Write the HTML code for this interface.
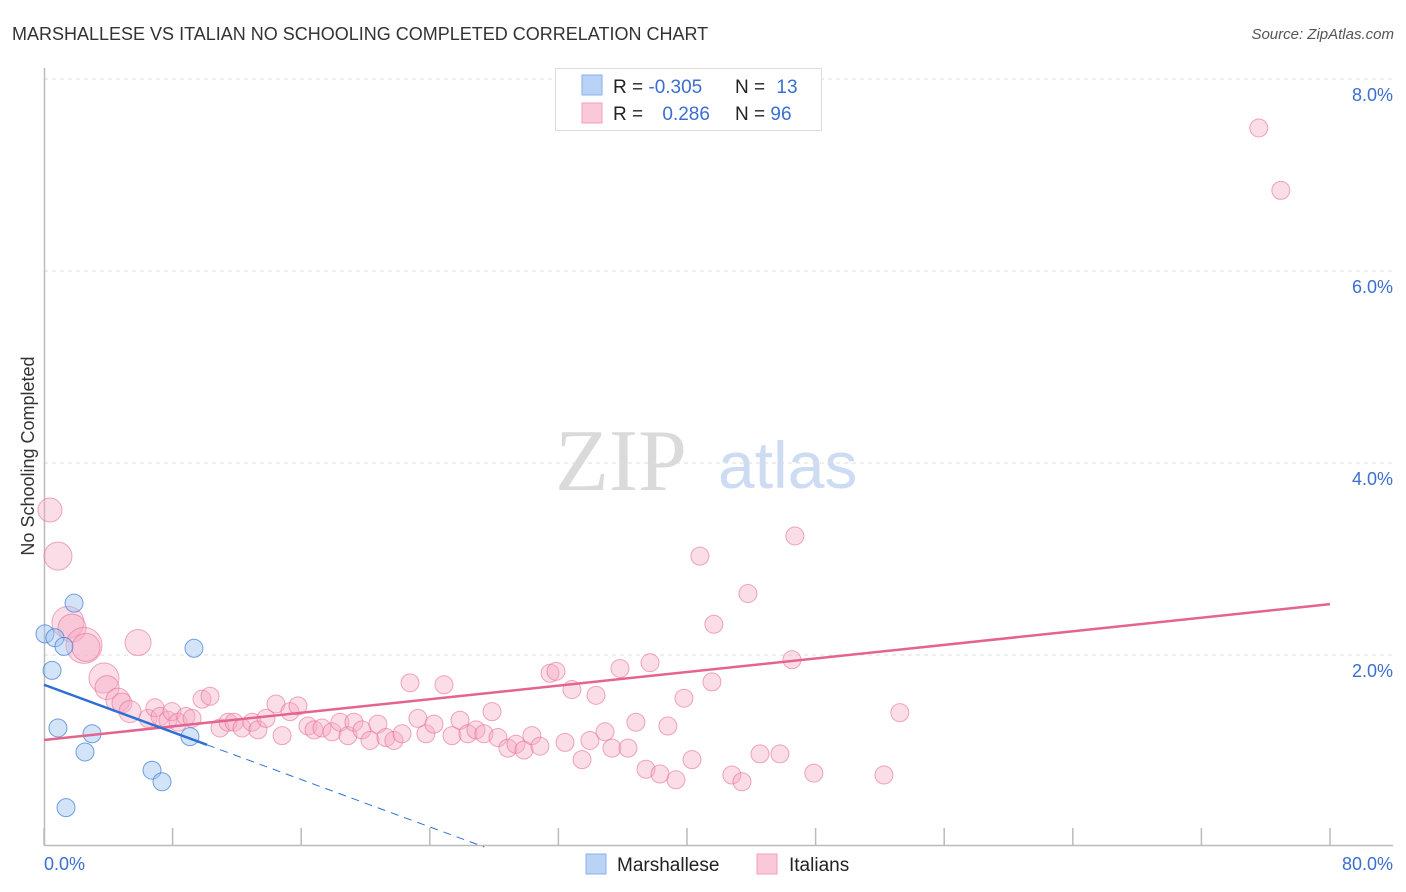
<!DOCTYPE html>
<html><head><meta charset="utf-8">
<style>
body{margin:0;background:#fff;font-family:"Liberation Sans",sans-serif;}
svg{display:block}
</style></head>
<body>
<svg id="chart" width="1406" height="892">
<text x="12" y="40" font-size="18" fill="#333">MARSHALLESE VS ITALIAN NO SCHOOLING COMPLETED CORRELATION CHART</text>
<text x="1394" y="39" font-size="15" fill="#555" text-anchor="end" font-style="italic">Source: ZipAtlas.com</text>
<g>
<text x="555" y="490" font-family="Liberation Serif,serif" font-size="88" fill="#dadada">ZIP</text>
<text x="718" y="488" font-size="66" fill="#cddcf2">atlas</text>
</g>
<text transform="translate(34,456) rotate(-90)" font-size="18" fill="#333" text-anchor="middle">No Schooling Completed</text>
<g id="grid"></g>
<g id="axes"></g>
<g id="marks"></g>
<g>
<rect x="555.5" y="68.5" width="266" height="62" fill="#fff" stroke="#ddd"/>
<rect x="582" y="75" width="20" height="20" fill="#b8d3f5" stroke="#8ab0e8"/>
<rect x="582" y="103" width="20" height="20" fill="#fac8d8" stroke="#f0a0b8"/>
<text x="613" y="93" font-size="19" fill="#222">R = <tspan fill="#3a6fd0">-0.305</tspan></text>
<text x="735" y="93" font-size="19" fill="#222">N = <tspan fill="#3a6fd0" dx="6">13</tspan></text>
<text x="613" y="120" font-size="19" fill="#222">R = <tspan fill="#3a6fd0" dx="14">0.286</tspan></text>
<text x="735" y="120" font-size="19" fill="#222">N = <tspan fill="#3a6fd0">96</tspan></text>
</g>
<g>
<rect x="586" y="854" width="20" height="20" fill="#b8d3f5" stroke="#8ab0e8"/>
<text x="617" y="871" font-size="19" fill="#222">Marshallese</text>
<rect x="757" y="854" width="20" height="20" fill="#fac8d8" stroke="#f0a0b8"/>
<text x="789" y="871" font-size="19" fill="#222">Italians</text>
</g>
</svg>
<script>
const yTicks=[2,4,6,8];
const yTickLabels=["2.0%","4.0%","6.0%","8.0%"];
const xTicks=[0,8,16,24,32,40,48,56,64,72,80];
const xEndLabels=["0.0%","80.0%"];
const blueX=[0.06,0.50,0.68,0.87,1.24,1.37,1.87,2.55,2.99,6.72,7.34,9.08,9.33];
const blueY=[2.22,1.84,2.18,1.24,2.09,0.41,2.54,0.99,1.18,0.80,0.68,1.15,2.07];
const pinkX=[0.37,0.87,1.49,1.74,2.49,2.61,3.73,3.92,4.60,4.85,5.35,5.85,6.47,6.90,7.22,7.71,7.96,8.34,8.83,9.21,9.83,10.33,10.95,11.45,11.82,12.32,12.94,13.31,13.81,14.43,14.81,15.30,15.80,16.42,16.80,17.29,17.92,18.41,18.91,19.28,19.78,20.28,20.77,21.27,21.77,22.27,22.77,23.26,23.76,24.26,24.88,25.38,25.88,26.37,26.87,27.37,27.87,28.24,28.86,29.36,29.86,30.35,30.85,31.48,31.85,32.41,32.84,33.47,33.96,34.34,34.90,35.33,35.83,36.33,36.82,37.45,37.70,38.32,38.81,39.31,39.81,40.31,40.80,41.55,41.67,42.79,43.42,43.79,44.54,45.78,46.53,46.71,47.89,52.25,53.24,75.57,76.94];
const pinkY=[3.51,3.03,2.34,2.28,2.10,2.08,1.76,1.66,1.53,1.50,1.41,2.13,1.34,1.45,1.36,1.32,1.41,1.30,1.36,1.34,1.54,1.57,1.24,1.30,1.30,1.24,1.30,1.22,1.34,1.49,1.16,1.41,1.47,1.26,1.22,1.24,1.20,1.30,1.16,1.30,1.22,1.11,1.28,1.14,1.11,1.18,1.71,1.34,1.18,1.28,1.69,1.16,1.32,1.18,1.22,1.18,1.41,1.14,1.03,1.07,1.01,1.16,1.05,1.81,1.83,1.09,1.64,0.91,1.11,1.58,1.20,1.03,1.86,1.03,1.30,0.81,1.92,0.76,1.26,0.70,1.55,0.91,3.03,1.72,2.32,0.75,0.68,2.64,0.97,0.97,1.95,3.24,0.77,0.75,1.40,7.49,6.84];
const pinkSize=[12,14,16,14,18,14,15,12,12,10,11,13];
const pinkTrend=[1.115,2.53];
const blueTrend=[1.69,-0.0617];
const blueSolidEnd=10.14;

const NS="http://www.w3.org/2000/svg";
const X0=44,X1=1330,Y0=847,PX=96;
const sx=v=>X0+(v/80)*(X1-X0);
const sy=v=>Y0-v*PX;
function mk(tag,attrs,parent){const e=document.createElementNS(NS,tag);for(const k in attrs)e.setAttribute(k,attrs[k]);parent.appendChild(e);return e;}
const grid=document.getElementById('grid'),axes=document.getElementById('axes'),marks=document.getElementById('marks');
yTicks.forEach((t,i)=>{
 const l=mk('line',{x1:44,x2:1393,y1:sy(t),y2:sy(t),stroke:'#ddd','stroke-dasharray':'4,4'},grid);
 
 
 const tx=mk('text',{x:1393,y:sy(t)+22,'font-size':18,fill:'#3a6fd0','text-anchor':'end'},grid);
 tx.textContent=yTickLabels[i];
 
 
});
const ax=mk('path',{d:'M44.5 68V845.5H1393',fill:'none',stroke:'#bbb','stroke-width':1.5},axes);


xTicks.forEach(t=>{
 const l=mk('line',{x1:sx(t),x2:sx(t),y1:828,y2:845,stroke:'#bbb','stroke-width':1.5},axes);
 
 
});
[[0,'start',44],[80,'end',1393]].forEach((d,i)=>{
 const tx=mk('text',{x:d[2],y:870,'font-size':18,fill:'#3a6fd0','text-anchor':d[1]},axes);
 tx.textContent=xEndLabels[i];
 
 
});
pinkX.forEach((x,i)=>{
 const c=mk('circle',{cx:sx(x),cy:sy(pinkY[i]),r:pinkSize[i]||9,fill:'rgba(246,170,195,0.4)',stroke:'rgba(230,110,150,0.6)','stroke-width':1},marks);
 
 
});
blueX.forEach((x,i)=>{
 const c=mk('circle',{cx:sx(x),cy:sy(blueY[i]),r:9,fill:'rgba(160,195,240,0.45)',stroke:'rgba(70,130,215,0.75)','stroke-width':1},marks);
 
 
});
const pl=mk('line',{x1:sx(0),y1:sy(pinkTrend[0]),x2:sx(80),y2:sy(pinkTrend[1]),stroke:'#e4648e','stroke-width':2.5},marks);


const bf=v=>blueTrend[0]+blueTrend[1]*v;
const bl=mk('line',{x1:sx(0),y1:sy(bf(0)),x2:sx(blueSolidEnd),y2:sy(bf(blueSolidEnd)),stroke:'#2f6fd4','stroke-width':2.5},marks);


const xEnd=-blueTrend[0]/blueTrend[1];
const bd=mk('line',{x1:sx(blueSolidEnd),y1:sy(bf(blueSolidEnd)),x2:sx(xEnd),y2:sy(0),stroke:'#2f6fd4','stroke-width':1,'stroke-dasharray':'8,6'},marks);


</script>
</body></html>
